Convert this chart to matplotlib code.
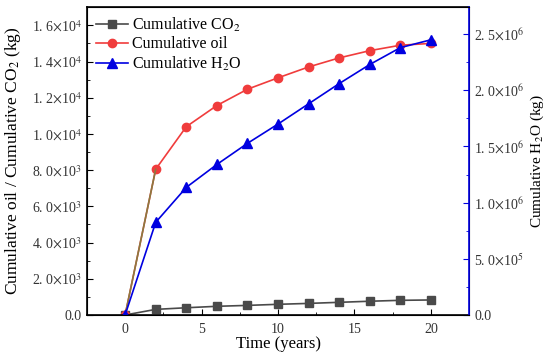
import matplotlib
matplotlib.use("Agg")
import math
import matplotlib.pyplot as plt
from matplotlib.ticker import FuncFormatter, MultipleLocator

time = [0, 2, 4, 6, 8, 10, 12, 14, 16, 18, 20]
co2 = [0, 310, 400, 480, 530, 590, 640, 700, 760, 810, 830]
oil = [0, 8050, 10400, 11570, 12470, 13100, 13700, 14200, 14600, 14900, 15000]
h2o = [0, 0.825e6, 1.136e6, 1.34e6, 1.528e6, 1.70e6, 1.88e6, 2.06e6, 2.23e6, 2.38e6, 2.45e6]

plt.rcParams['font.family'] = ['Liberation Serif', 'DejaVu Serif']
plt.rcParams['mathtext.fontset'] = 'stix'

def sci(v, pos):
    if v == 0:
        return "0.0"
    e = int(math.floor(math.log10(abs(v)) + 1e-9))
    m = v / 10**e
    s = "%.1f" % m
    return s.replace(".", ". ") + r"$\times$10$^{%d}$" % e

fig = plt.figure(figsize=(5.5, 3.55), dpi=100)
ax = fig.add_axes([0.158, 0.1127, 0.695, 0.867])
ax2 = ax.twinx()

l1, = ax.plot(time, co2, color='#4a4a4a', marker='s', ms=5.5, lw=1.2, label='Cumulative CO$_2$')
l2, = ax.plot(time, oil, color='#f03c3c', marker='o', ms=6, lw=1.2, label='Cumulative oil')
ax.plot(time[:2], oil[:2], color='#8a7a40', lw=1.2)
l3, = ax2.plot(time, h2o, color='#0000e0', marker='^', ms=6.5, lw=1.2, label='Cumulative H$_2$O')

ax.set_xlim(-2.5, 22.5)
ax.set_ylim(0, 17000)
ax2.set_ylim(0, 2.74e6)

ax.xaxis.set_major_locator(MultipleLocator(5))
ax.xaxis.set_minor_locator(MultipleLocator(2.5))
ax.yaxis.set_major_locator(MultipleLocator(2000))
ax.yaxis.set_minor_locator(MultipleLocator(1000))
ax2.yaxis.set_major_locator(MultipleLocator(5e5))
ax2.yaxis.set_minor_locator(MultipleLocator(2.5e5))
ax.yaxis.set_major_formatter(FuncFormatter(sci))
ax2.yaxis.set_major_formatter(FuncFormatter(sci))

ax.tick_params(axis='both', which='both', direction='in', labelsize=10, labelcolor='#333333')
ax.tick_params(which='major', length=4)
ax.tick_params(which='minor', length=2.5)
ax.tick_params(axis='x', pad=6)
ax2.tick_params(axis='y', which='both', direction='in', colors='#0000e0', labelsize=10, labelcolor='#333333')
ax2.tick_params(which='major', length=4)
ax2.tick_params(which='minor', length=2.5)
ax2.spines['right'].set_color('#0000e0')
ax2.spines['right'].set_linewidth(1.2)
for s in ['left', 'bottom', 'top']:
    ax.spines[s].set_linewidth(1.2)

ax.set_xlabel('Time (years)', fontsize=12, labelpad=0)
ax.set_ylabel('Cumulative oil / Cumulative CO$_2$ (kg)', fontsize=12.5, labelpad=6)
ax2.set_ylabel('Cumulative H$_2$O (kg)', fontsize=11, labelpad=3)

ax.legend(handles=[l1, l2, l3], loc='upper left', frameon=False, fontsize=11.5,
          handlelength=2.0, borderaxespad=0.1, labelspacing=0.15, handletextpad=0.3,
          borderpad=0.45)

fig.savefig('out.png', dpi=100)
